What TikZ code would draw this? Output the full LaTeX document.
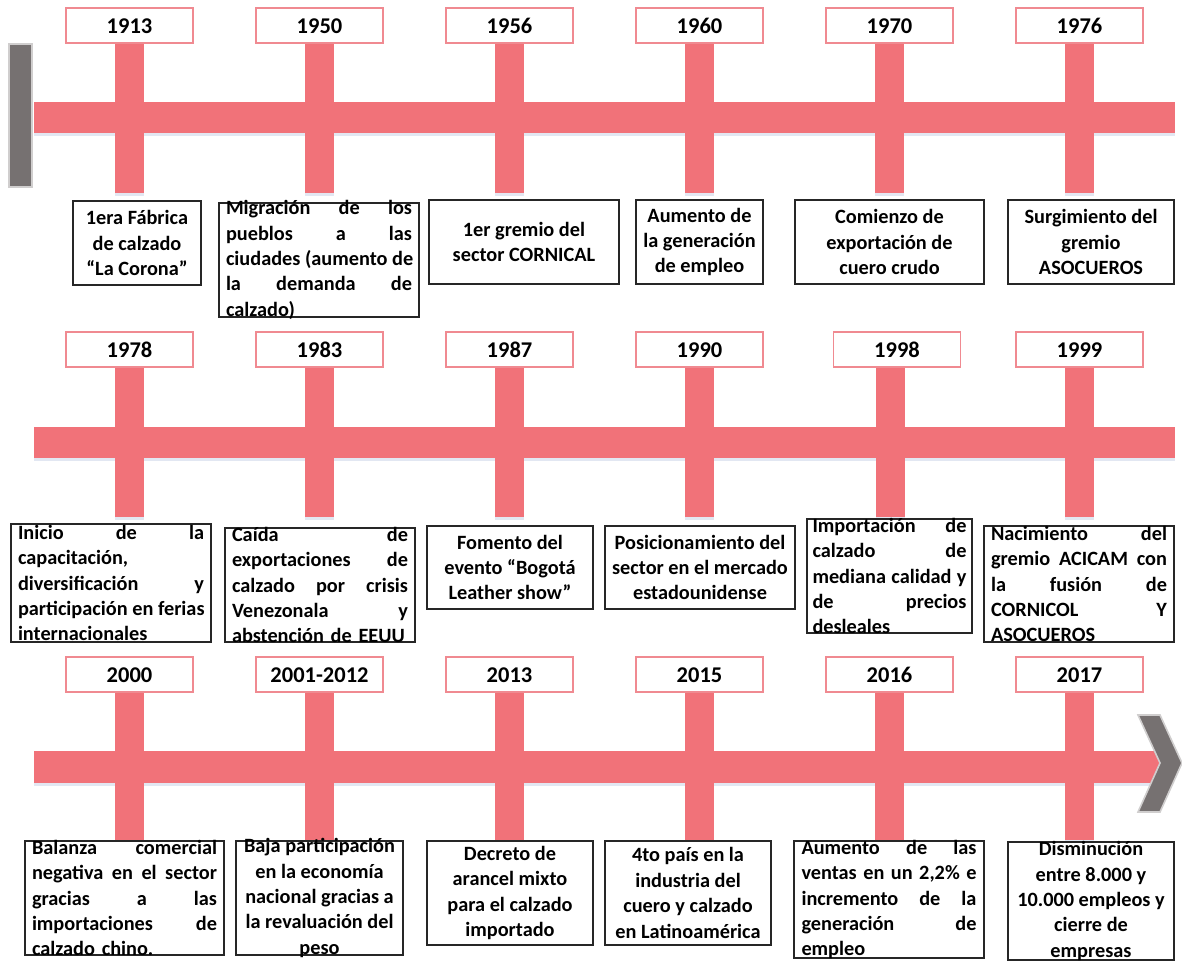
\documentclass[tikz,border=0pt]{standalone}
\usepackage{fontspec}
\setmainfont{Carlito}
\usetikzlibrary{calc}

\definecolor{barpink}{RGB}{241,114,121}
\definecolor{yearedge}{RGB}{240,138,145}
\definecolor{capgray}{RGB}{118,113,113}
\definecolor{capedge}{RGB}{208,206,206}
\definecolor{barshadow}{RGB}{226,231,242}
\definecolor{boxedge}{RGB}{38,38,38}

% a justified line: interword spaces stretched over the full width \jw
\newcommand{\jw}{100pt}
\newcommand{\jl}[1]{\leavevmode\hbox to \jw{\spaceskip=0.226em plus 1fil\relax\xspaceskip=\spaceskip #1}}

% event frame given by its corners (x1,y1) (x2,y2)
\newcommand{\evframe}[5]{%
  \pgfmathsetmacro\evcx{(#2+#4)/2}\pgfmathsetmacro\evcy{(#3+#5)/2}%
  \pgfmathsetmacro\evw{#4-#2}\pgfmathsetmacro\evh{#5-#3}%
  \node[eventbox, minimum width=\evw pt, minimum height=\evh pt] (#1) at (\evcx,\evcy) {};}

\tikzset{
  bar/.style={fill=barpink},
  barshade/.style={fill=barshadow},
  yearbox/.style={draw=yearedge, line width=1.1pt, fill=white, inner sep=0pt,
    minimum width=127pt, minimum height=35pt, text height=15.5pt, text depth=0pt,
    font=\fontsize{22.5}{27}\selectfont\bfseries},
  eventbox/.style={draw=boxedge, line width=1.3pt, inner sep=0pt},
  evtext/.style={inner sep=0pt, align=center,
    font=\fontsize{20.3}{25.4}\selectfont\bfseries},
  evjust/.style={evtext, text width=#1, align=left,
    execute at begin node={\renewcommand{\jw}{#1}}},
  capshape/.style={fill=capgray, draw=capedge, line width=1.6pt},
}

\begin{document}
\begin{tikzpicture}[x=1pt,y=-1pt]
\useasboundingbox (0,0) rectangle (1182,962);

% ---------- anchors for the year labels ----------
\foreach \nm/\cx in {a1/129.5, a2/319.5, a3/509.5, a4/699.5, a5/889.5, a6/1079.5}
  \coordinate (\nm) at (\cx,43);
\foreach \nm/\cx in {b1/129.5, b2/319.5, b3/509.5, b4/699.5, b5/890, b6/1079.5}
  \coordinate (\nm) at (\cx,367);
\foreach \nm/\cx in {c1/129.5, c2/319.5, c3/509.5, c4/699.5, c5/889.5, c6/1079.5}
  \coordinate (\nm) at (\cx,692);

% ---------- timeline bars (soft shadow first, then the bar) ----------
\fill[barshade] (34,104) rectangle (1175,136);
\fill[barshade] (34,429) rectangle (1175,461);
\fill[barshade] (34,753) rectangle (1160,786);
\foreach \nm in {a1,a2,a3,a4,a5,a6,b1,b2,b3,b4,b5,b6}
  \fill[barshade] ($(\nm)+(-14.5,100)$) rectangle ($(\nm)+(14.5,153)$);
\foreach \nm in {c1,c2,c3,c4,c5,c6}
  \fill[barshade] ($(\nm)+(-14.5,100)$) rectangle ($(\nm)+(14.5,150)$);

\fill[bar] (34,102) rectangle (1175,133);
\fill[bar] (34,427) rectangle (1175,458);
\fill[bar] (34,751) rectangle (1160,783);

% vertical bars hanging from each year label
\foreach \nm in {a1,a2,a3,a4,a5,a6,b1,b2,b3,b4,b5,b6}
  \fill[bar] ($(\nm)+(-14.5,0)$) rectangle ($(\nm)+(14.5,150)$);
\foreach \nm in {c1,c2,c3,c4,c5,c6}
  \fill[bar] ($(\nm)+(-14.5,0)$) rectangle ($(\nm)+(14.5,148)$);

% ---------- year labels ----------
\foreach \nm/\yr/\cx in {ya1/1913/129.5, ya2/1950/319.5, ya3/1956/509.5, ya4/1960/699.5, ya5/1970/889.5, ya6/1976/1079.5}
  \node[yearbox] (\nm) at (\cx,25.5) {\yr};
\foreach \nm/\yr/\cx in {yb1/1978/129.5, yb2/1983/319.5, yb3/1987/509.5, yb4/1990/699.5, yb5/1998/897, yb6/1999/1079.5}
  \node[yearbox] (\nm) at (\cx,349.5) {\yr};
\foreach \nm/\yr/\cx in {yc1/2000/129.5, yc2/2001-2012/319.5, yc3/2013/509.5, yc4/2015/699.5, yc5/2016/889.5, yc6/2017/1079.5}
  \node[yearbox] (\nm) at (\cx,674.5) {\yr};

% start cap and end chevron
\node[capshape, minimum width=23pt, minimum height=143pt, inner sep=0pt] (startcap) at (20.5,115.5) {};
\draw[capshape] (1138,715) -- (1160,715) -- (1182,763) -- (1160,812) -- (1138,812) -- (1160,763) -- cycle;

% ---------- event texts, row 1 ----------
\evframe{e1}{73}{201}{201}{285}
\node[evtext] (t1) at (e1.center) {1era Fábrica\\de calzado\\“La Corona”};
\evframe{e2}{219}{203}{419}{317}
\node[evjust=186pt] (t2) at (e2.center) {\jl{Migración de los}\\\jl{pueblos a las}\\\jl{ciudades (aumento de}\\\jl{la demanda de}\\calzado)};
\evframe{e3}{429}{200}{619}{284}
\node[evtext] (t3) at (e3.center) {1er gremio del\\sector CORNICAL};
\evframe{e4}{636}{200}{763}{284}
\node[evtext] (t4) at (e4.center) {Aumento de\\la generación\\de empleo};
\evframe{e5}{795}{200}{984}{284}
\node[evtext] (t5) at (e5.center) {Comienzo de\\exportación de\\cuero crudo};
\evframe{e6}{1008}{200}{1174}{284}
\node[evtext] (t6) at (e6.center) {Surgimiento del\\gremio\\ASOCUEROS};

% ---------- event texts, row 2 ----------
\evframe{f1}{11}{524}{211}{642}
\node[evjust=186pt] (u1) at (f1.center) {\jl{Inicio de la}\\capacitación,\\\jl{diversificación y}\\\jl{participación en ferias}\\internacionales};
\evframe{f2}{225}{528}{415}{642}
\node[evjust=176pt] (u2) at (f2.center) {\jl{Caída de}\\\jl{exportaciones de}\\\jl{calzado por crisis}\\\jl{Venezonala y}\\abstención de EEUU};
\evframe{f3}{427}{526}{593}{609}
\node[evtext] (u3) at (f3.center) {Fomento del\\evento “Bogotá\\Leather show”};
\evframe{f4}{605}{526}{795}{609}
\node[evtext] (u4) at (f4.center) {Posicionamiento del\\sector en el mercado\\estadounidense};
\evframe{f5}{807}{519}{972}{633}
\node[evjust=154pt] (u5) at (f5.center) {\jl{Importación de}\\\jl{calzado de}\\\jl{mediana calidad y}\\\jl{de precios}\\desleales};
\evframe{f6}{984}{526}{1174}{642}
\node[evjust=176pt] (u6) at (f6.center) {\jl{Nacimiento del}\\\jl{gremio ACICAM con}\\\jl{la fusión de}\\\jl{CORNICOL Y}\\ASOCUEROS};

% ---------- event texts, row 3 ----------
\evframe{g1}{25}{841}{224}{955}
\node[evjust=185pt] (v1) at (g1.center) {\jl{Balanza comercial}\\\jl{negativa en el sector}\\\jl{gracias a las}\\\jl{importaciones de}\\calzado chino.};
\evframe{g2}{236}{841}{403}{955}
\node[evtext] (v2) at (g2.center) {Baja participación\\en la economía\\nacional gracias a\\la revaluación del\\peso};
\evframe{g3}{427}{841}{593}{945}
\node[evtext] (v3) at (g3.center) {Decreto de\\arancel mixto\\para el calzado\\importado};
\evframe{g4}{605}{841}{771}{945}
\node[evtext] (v4) at (g4.center) {4to país en la\\industria del\\cuero y calzado\\en Latinoamérica};
\evframe{g5}{794}{841}{984}{958}
\node[evjust=175pt] (v5) at (g5.center) {\jl{Aumento de las}\\\jl{ventas en un 2,2\% e}\\\jl{incremento de la}\\\jl{generación de}\\empleo};
\evframe{g6}{1008}{842}{1174}{960}
\node[evtext] (v6) at (g6.center) {Disminución\\entre 8.000 y\\10.000 empleos y\\cierre de\\empresas};

\end{tikzpicture}
\end{document}
